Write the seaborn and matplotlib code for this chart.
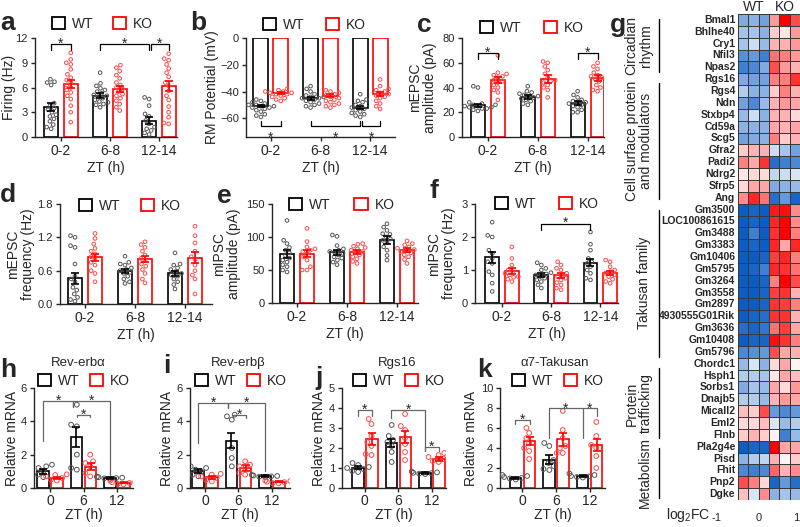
import numpy as np
import pandas as pd
import matplotlib.pyplot as plt
import seaborn as sns
from matplotlib.patches import Patch
from matplotlib.colors import LinearSegmentedColormap
from matplotlib.ticker import FormatStrFormatter
import matplotlib.transforms as mtransforms

# ================================
# DATA
# ================================
zt_cells = ["0-2", "6-8", "12-14"]
zt_mrna = ["0", "6", "12"]

# a: firing (Hz)
a_wt = [[7.0, 6.7, 6.6, 6.3, 4.1, 3.8, 3.5, 3.3, 3.0, 2.7, 2.5, 2.2, 1.9, 1.5, 1.2, 1.0],
        [7.8, 6.5, 6.2, 5.9, 5.7, 5.5, 5.3, 5.1, 5.0, 4.9, 4.7, 4.5, 4.3, 4.2, 4.0, 3.9, 3.6],
        [4.8, 4.6, 3.8, 2.8, 2.5, 2.0, 1.6, 1.2, 1.0, 0.8, 0.5, 0.3]]
a_ko = [[10.2, 9.4, 9.0, 8.8, 8.2, 7.6, 7.2, 6.9, 6.6, 6.3, 6.0, 5.7, 5.4, 5.0, 4.6, 3.8, 3.0, 1.8],
        [8.7, 8.4, 8.0, 7.5, 7.1, 6.6, 6.3, 6.0, 5.8, 5.5, 5.2, 5.0, 4.7, 4.4, 4.0, 3.6, 3.2],
        [10.1, 9.5, 9.3, 8.8, 8.3, 7.8, 7.3, 6.6, 6.2, 5.6, 5.0, 4.5, 3.7, 3.0, 2.4, 1.7, 1.6]]
a_wt_mean, a_wt_sem = [3.6, 5.0, 2.0], [0.5, 0.3, 0.45]
a_ko_mean, a_ko_sem = [6.4, 5.8, 6.2], [0.5, 0.4, 0.6]

# b: resting membrane potential (mV)
b_wt = [[-46, -47, -48, -49, -50, -50, -51, -51, -52, -52, -53, -54, -55, -57, -58, -59],
        [-36, -38, -40, -42, -43, -44, -44, -45, -45, -46, -47, -48, -49, -50, -51, -52],
        [-42, -46, -47, -48, -50, -51, -52, -53, -54, -55, -56, -57, -58, -59]]
b_ko = [[-38, -39, -40, -40, -41, -41, -42, -42, -43, -44, -45, -46, -47],
        [-39, -40, -41, -42, -43, -44, -45, -46, -47, -48, -49, -50, -51, -52],
        [-31, -36, -38, -39, -40, -41, -42, -43, -44, -45, -47, -49, -51, -53]]
b_wt_mean, b_wt_sem = [-51, -45, -52], [0.9, 1.0, 1.2]
b_ko_mean, b_ko_sem = [-41, -43, -42], [0.7, 0.9, 1.3]

# c: mEPSC amplitude (pA)
c_wt = [[41, 40, 28, 27, 26, 26, 25, 25, 24, 24, 23, 23, 22, 21],
        [41, 37, 36, 35, 34, 33, 33, 32, 31, 30, 29, 27, 26],
        [37, 34, 32, 30, 29, 28, 28, 27, 26, 25, 24, 22, 20, 20]]
c_ko = [[66, 52, 51, 50, 49, 48, 46, 45, 44, 42, 40, 38, 36, 30],
        [61, 60, 57, 54, 51, 48, 46, 45, 44, 42, 40, 38, 32],
        [60, 57, 55, 52, 50, 49, 48, 47, 45, 42, 40, 38, 37]]
c_wt_mean, c_wt_sem = [25.5, 32.5, 27.5], [1.3, 1.4, 1.3]
c_ko_mean, c_ko_sem = [46, 47, 48], [2.5, 3.0, 2.4]

# d: mEPSC frequency (Hz)
d_wt = [[1.23, 1.2, 1.05, 1.02, 0.72, 0.5, 0.45, 0.4, 0.3, 0.25, 0.18, 0.12, 0.08, 0.05],
        [0.86, 0.75, 0.72, 0.7, 0.65, 0.62, 0.6, 0.57, 0.55, 0.5, 0.45, 0.4, 0.37],
        [0.92, 0.72, 0.7, 0.65, 0.62, 0.58, 0.55, 0.52, 0.5, 0.45, 0.4, 0.35, 0.27]]
d_ko = [[1.27, 1.18, 1.08, 1.0, 0.95, 0.9, 0.85, 0.8, 0.75, 0.7, 0.6, 0.55, 0.4],
        [1.12, 1.07, 1.02, 0.95, 0.88, 0.82, 0.78, 0.72, 0.68, 0.62, 0.55, 0.45, 0.38],
        [1.4, 1.23, 1.1, 0.95, 0.85, 0.8, 0.7, 0.6, 0.52, 0.45, 0.18]]
d_wt_mean, d_wt_sem = [0.46, 0.59, 0.55], [0.1, 0.04, 0.05]
d_ko_mean, d_ko_sem = [0.84, 0.81, 0.83], [0.06, 0.06, 0.1]

# e: mIPSC amplitude (pA)
e_wt = [[125, 95, 90, 84, 80, 76, 72, 68, 65, 62, 58, 55, 50, 47],
        [103, 101, 87, 82, 80, 78, 77, 75, 73, 70, 68, 65, 62, 58],
        [120, 115, 110, 105, 104, 100, 97, 95, 92, 85, 80, 72, 65]]
e_ko = [[113, 93, 85, 82, 80, 78, 75, 70, 65, 55, 50, 50],
        [90, 89, 86, 84, 82, 80, 78, 76, 73, 70, 67, 63, 60],
        [94, 90, 88, 85, 83, 81, 79, 78, 76, 73, 70, 66, 60]]
e_wt_mean, e_wt_sem = [74, 77, 96], [6, 4, 6]
e_ko_mean, e_ko_sem = [75, 77, 80], [5, 3, 3]

# f: mIPSC frequency (Hz)
f_wt = [[2.45, 2.05, 2.0, 1.6, 1.5, 1.35, 1.25, 1.2, 0.95, 0.85, 0.6, 0.35],
        [1.22, 1.15, 1.05, 1.0, 0.92, 0.88, 0.85, 0.8, 0.75, 0.7, 0.65, 0.55, 0.45],
        [2.15, 1.78, 1.6, 1.35, 1.25, 1.2, 1.1, 1.0, 0.9, 0.75, 0.7]]
f_ko = [[1.7, 1.35, 1.15, 1.0, 0.95, 0.9, 0.85, 0.8, 0.78, 0.72, 0.65],
        [1.25, 1.15, 1.05, 1.0, 0.9, 0.85, 0.8, 0.75, 0.7, 0.62, 0.55, 0.45, 0.4],
        [1.3, 1.25, 1.1, 1.0, 0.95, 0.9, 0.85, 0.8, 0.72, 0.65, 0.6]]
f_wt_mean, f_wt_sem = [1.38, 0.85, 1.22], [0.16, 0.06, 0.11]
f_ko_mean, f_ko_sem = [0.96, 0.84, 0.91], [0.09, 0.08, 0.07]

# h: Rev-erb alpha mRNA
h_wt = [[1.4, 1.3, 1.2, 1.0, 0.8, 0.65], [5.0, 3.8, 3.7, 2.0, 1.2, 1.1], [0.68, 0.65, 0.62, 0.6, 0.58, 0.55]]
h_ko = [[0.82, 0.78, 0.7, 0.6, 0.5, 0.45], [2.0, 1.6, 1.5, 1.3, 0.9, 0.7], [0.45, 0.38, 0.35, 0.3, 0.25, 0.22]]
h_wt_mean, h_wt_sem = [1.0, 3.05, 0.6], [0.13, 0.6, 0.05]
h_ko_mean, h_ko_sem = [0.62, 1.28, 0.32], [0.06, 0.2, 0.04]

# i: Rev-erb beta mRNA
i_wt = [[1.3, 1.2, 1.1, 1.0, 0.8, 0.7], [4.4, 4.3, 4.1, 2.4, 1.8, 1.3], [0.78, 0.75, 0.72, 0.7, 0.68, 0.66]]
i_ko = [[0.85, 0.8, 0.7, 0.6, 0.5, 0.4], [1.6, 1.4, 1.3, 1.2, 0.9, 0.8], [0.45, 0.42, 0.38, 0.35, 0.3, 0.28]]
i_wt_mean, i_wt_sem = [1.0, 2.85, 0.72], [0.12, 0.45, 0.05]
i_ko_mean, i_ko_sem = [0.65, 1.22, 0.38], [0.08, 0.18, 0.04]

# j: Rgs16 mRNA
j_wt = [[1.25, 1.15, 1.05, 1.0, 0.95, 0.85, 0.8], [3.15, 2.6, 2.4, 2.3, 2.1, 1.8, 1.3], [0.82, 0.78, 0.76, 0.74, 0.72, 0.7]]
j_ko = [[3.45, 3.2, 2.6, 2.3, 2.1, 1.7, 1.65], [3.7, 3.1, 2.9, 2.5, 2.2, 1.8, 1.4], [1.75, 1.65, 1.55, 1.45, 1.35, 1.3]]
j_wt_mean, j_wt_sem = [1.02, 2.25, 0.75], [0.08, 0.22, 0.04]
j_ko_mean, j_ko_sem = [2.45, 2.55, 1.45], [0.3, 0.3, 0.08]

# k: alpha7-Takusan mRNA
k_wt = [[1.3, 1.2, 1.1, 1.0, 0.95, 0.85], [4.5, 4.2, 2.8, 2.5, 2.2, 1.9, 1.8], [1.45, 1.3, 1.2, 1.15, 1.1, 1.05]]
k_ko = [[6.0, 5.5, 5.0, 4.5, 4.0, 3.7, 2.9], [7.7, 5.8, 5.0, 4.2, 4.0, 3.5, 3.5], [6.6, 5.2, 4.3, 4.0, 3.2, 2.0]]
k_wt_mean, k_wt_sem = [1.05, 2.85, 1.2], [0.1, 0.45, 0.08]
k_ko_mean, k_ko_sem = [4.75, 4.9, 4.3], [0.4, 0.65, 0.6]

# g: heatmap log2FC (WT1, WT2, WT3, KO1, KO2, KO3)
genes = ["Bmal1", "Bhlhe40", "Cry1", "Nfil3", "Npas2", "Rgs16",
         "Rgs4", "Ndn", "Stxbp4", "Cd59a", "Scg5", "Gfra2", "Padi2", "Ndrg2", "Sfrp5", "Ang",
         "Gm3500", "LOC100861615", "Gm3488", "Gm3383", "Gm10406", "Gm5795", "Gm3264", "Gm3558",
         "Gm2897", "4930555G01Rik", "Gm3636", "Gm10408", "Gm5796",
         "Chordc1", "Hsph1", "Sorbs1", "Dnajb5", "Micall2", "Eml2", "Flnb",
         "Pla2g4e", "Pisd", "Fhit", "Pnp2", "Dgke"]
fc_values = [
    [-0.5, -0.45, -0.55, 0.4, 1.0, 0.7],
    [-0.35, -0.35, -0.45, 0.2, 0.1, 0.4],
    [-0.35, -0.2, -0.4, 0.3, 0.3, 0.4],
    [-0.65, -0.6, -0.75, 0.55, 0.5, 0.4],
    [-0.75, -0.7, -0.5, 0.7, 0.4, 0.3],
    [-0.5, -0.55, -0.55, 0.5, 0.5, 0.8],
    [-0.3, -0.45, -0.45, 0.2, 0.5, 0.3],
    [-0.55, -0.7, -0.4, 0.3, 0.4, 0.35],
    [-0.4, -0.2, -0.45, 0.3, 0.3, 0.15],
    [-0.45, -0.45, -0.45, 0.35, 0.3, 0.35],
    [-0.55, -0.5, -0.45, 0.5, 0.2, 0.3],
    [0.2, 0.3, 0.3, -0.2, -0.35, -0.55],
    [0.5, 0.35, 0.8, -0.85, -0.75, -0.7],
    [0.1, 0.15, 0.15, -0.25, -0.2, -0.15],
    [0.15, 0.35, 0.35, -0.5, -0.45, -0.4],
    [0.45, 0.85, 0.55, -0.85, -0.6, -0.9],
    [-0.95, -0.9, -0.95, 0.9, 0.95, 0.45],
    [-0.95, -0.9, -0.95, 0.85, 1.0, 0.45],
    [-0.95, -0.75, -0.95, 0.8, 1.0, 0.5],
    [-0.95, -0.9, -0.95, 0.85, 0.35, 0.85],
    [-0.95, -0.95, -0.9, 0.75, 0.85, 0.5],
    [-0.95, -0.9, -0.75, 0.85, 0.8, 0.55],
    [-0.95, -0.95, -0.9, 0.5, 1.0, 0.7],
    [-0.95, -0.95, -0.9, 0.75, 0.8, 0.3],
    [-0.95, -0.95, -0.9, 0.8, 0.75, 0.5],
    [-0.95, -0.9, -0.85, 0.8, 0.8, 0.3],
    [-0.85, -0.9, -0.8, 0.55, 0.75, 0.35],
    [-0.95, -0.9, -0.9, 0.95, 0.8, 0.5],
    [-0.7, -0.65, -0.6, 0.7, 0.35, 0.3],
    [-0.4, -0.15, -0.45, 0.15, 0.35, 0.05],
    [-0.3, -0.3, -0.35, 0.1, 0.35, 0.25],
    [-0.5, -0.35, -0.4, 0.35, 0.15, 0.4],
    [-0.3, -0.3, -0.4, 0.3, 0.4, 0.35],
    [0.25, 0.2, 0.7, -0.6, -0.7, -0.6],
    [0.15, 0.15, 0.25, -0.15, -0.4, -0.3],
    [0.2, 0.3, 0.2, 0.05, -0.75, -0.4],
    [-0.95, -0.9, -0.9, 1.0, 0.35, 0.35],
    [-0.45, -0.3, -0.25, 0.3, 0.05, 0.2],
    [-0.7, -0.75, -0.7, 0.6, 0.3, 0.45],
    [0.7, 0.5, 0.15, -0.9, -0.6, -0.85],
    [0.25, -0.15, 0.45, -0.45, -0.35, -0.4],
]
groups = [("Circadian\nrhythm", 0.4, 4.9, 639), ("Cell surface protein\nand modulators", 5.8, 15.6, 639),
          ("Takusan family", 16.5, 28.9, 644), ("Protein\ntrafficking", 29.9, 35.8, 639),
          ("Metabolism", 36.6, 40.8, 645)]

# ================================
# STYLE
# ================================
sns.set_style("ticks")
plt.rcParams["font.family"] = ["Liberation Sans", "DejaVu Sans"]
plt.rcParams["mathtext.default"] = "regular"
plt.rcParams["axes.linewidth"] = 1.0
plt.rcParams["xtick.major.width"] = 1.0
plt.rcParams["ytick.major.width"] = 1.0
plt.rcParams["xtick.major.size"] = 3
plt.rcParams["ytick.major.size"] = 3

W, H = 800, 527
fig = plt.figure(figsize=(8, 5.27), dpi=100)

bar_pal = {"WT": "#000000", "KO": "#ff0000"}
pt_pal = {"WT": "#555555", "KO": "#ff4a4a"}


def px_axes(x0, y0, x1, y1):
    return fig.add_axes([x0 / W, 1 - y1 / H, (x1 - x0) / W, (y1 - y0) / H])


def draw_panel(ax, cats, wt_pts, ko_pts, wt_mean, ko_mean, wt_sem, ko_sem, gap, msize, off):
    bars = pd.DataFrame({"zt": cats * 2, "geno": ["WT"] * 3 + ["KO"] * 3, "val": wt_mean + ko_mean})
    sns.barplot(data=bars, x="zt", y="val", hue="geno", order=cats, hue_order=["WT", "KO"],
                palette=bar_pal, saturation=1, fill=False, width=2 * off / 0.5, gap=gap,
                errorbar=None, linewidth=1.2, legend=False, ax=ax)
    rows = []
    for n, c in enumerate(cats):
        rows += [(c, "WT", v) for v in wt_pts[n]]
        rows += [(c, "KO", v) for v in ko_pts[n]]
    pts = pd.DataFrame(rows, columns=["zt", "geno", "val"])
    n0 = len(ax.collections)
    sns.swarmplot(data=pts, x="zt", y="val", hue="geno", order=cats, hue_order=["WT", "KO"],
                  palette=pt_pal, dodge=True, size=msize, legend=False, ax=ax, warn_thresh=1)
    for coll in ax.collections[n0:]:
        fc = coll.get_facecolors()
        coll.set_edgecolors(fc)
        coll.set_facecolors("none")
        coll.set_linewidths(0.7)
        coll.set_zorder(3)
    for m, s, col, sgn in [(wt_mean, wt_sem, "black", -1), (ko_mean, ko_sem, "red", 1)]:
        xs = np.arange(3) + sgn * off
        ax.errorbar(xs, m, yerr=s, fmt="none", ecolor=col, elinewidth=1.2,
                    capsize=3, capthick=1.2, zorder=4)
    ax.set_xlabel("ZT (h)", fontsize=10, labelpad=2)
    ax.tick_params(axis="x", labelsize=10, pad=2)
    ax.tick_params(axis="y", labelsize=8, pad=2)
    sns.despine(ax=ax)


def star(ax, x, y):
    ax.annotate("*", xy=(x, y), xytext=(0, -2.3), textcoords="offset points",
                ha="center", va="center", fontsize=10, annotation_clip=False)


def bracket(ax, x1, x2, y, y1, y2, sy, color="black", sx=None):
    ax.plot([x1, x1, x2, x2], [y1, y, y, y2], color=color, lw=0.9, clip_on=False, zorder=5)
    star(ax, (x1 + x2) / 2 if sx is None else sx, sy)


def legend(ax, x, y, spacing):
    hs = [Patch(facecolor="white", edgecolor="black", linewidth=1.3, label="WT"),
          Patch(facecolor="white", edgecolor="red", linewidth=1.3, label="KO")]
    ax.legend(handles=hs, loc="center left", bbox_to_anchor=(x / W, 1 - y / H),
              bbox_transform=fig.transFigure, ncol=2, frameon=False, fontsize=10,
              handlelength=0.95, handleheight=0.95, handletextpad=0.5,
              columnspacing=spacing, borderpad=0, borderaxespad=0)


def letter(x, y, s):
    fig.text(x / W, 1 - y / H, s, fontsize=19, fontweight="bold", va="baseline", ha="left")


# ================================
# TOP ROW
# ================================
ax = px_axes(35, 38, 177, 137)
draw_panel(ax, zt_cells, a_wt, a_ko, a_wt_mean, a_ko_mean, a_wt_sem, a_ko_sem, 0.3, 2.6, 0.2)
ax.set_ylim(0, 12)
ax.set_yticks([0, 3, 6, 9, 12])
ax.set_xlim(-0.53, 2.37)
ax.set_ylabel("Firing (Hz)", fontsize=10, labelpad=0)
bracket(ax, -0.2, 0.2, 11.3, 10.5, 10.5, 11.7)
bracket(ax, 0.8, 1.8, 11.3, 10.5, 10.5, 11.7)
bracket(ax, 1.84, 2.2, 11.3, 10.5, 10.5, 11.7)
legend(ax, 52, 23.5, 1.4)
letter(0, 30, "a")

ax = px_axes(246, 38, 395, 137)
draw_panel(ax, zt_cells, b_wt, b_ko, b_wt_mean, b_ko_mean, b_wt_sem, b_ko_sem, 0.25, 2.6, 0.2)
ax.set_ylim(-74, 0)
ax.set_yticks([0, -20, -40, -60])
ax.set_xlim(-0.5, 2.5)
ax.set_ylabel("RM Potential (mV)", fontsize=10, labelpad=1)
bracket(ax, -0.2, 0.2, -65.5, -62, -62, -72.5)
bracket(ax, 0.8, 1.8, -65.5, -62, -62, -72.5)
bracket(ax, 1.84, 2.2, -65.5, -62, -62, -72.5)
legend(ax, 263, 25, 1.5)
letter(190, 30, "b")

ax = px_axes(462, 38, 604, 137)
draw_panel(ax, zt_cells, c_wt, c_ko, c_wt_mean, c_ko_mean, c_wt_sem, c_ko_sem, 0.3, 2.6, 0.2)
ax.set_ylim(0, 80)
ax.set_yticks([0, 20, 40, 60, 80])
ax.set_xlim(-0.52, 2.33)
ax.set_ylabel("mEPSC\namplitude (pA)", fontsize=10, linespacing=1.1)
bracket(ax, -0.2, 0.2, 68, 63, 63, 70.5)
bracket(ax, 1.8, 2.2, 68, 63, 63, 70.5)
legend(ax, 480, 28, 1.6)
letter(417, 32, "c")

ax = px_axes(60, 204, 212, 304)
draw_panel(ax, zt_cells, d_wt, d_ko, d_wt_mean, d_ko_mean, d_wt_sem, d_ko_sem, 0.3, 2.6, 0.2)
ax.set_ylim(0, 1.8)
ax.set_yticks([0, 0.6, 1.2, 1.8])
ax.yaxis.set_major_formatter(FormatStrFormatter("%.1f"))
ax.set_xlim(-0.5, 2.54)
ax.set_ylabel("mEPSC\nfrequency (Hz)", fontsize=10, linespacing=1.1, labelpad=2)
legend(ax, 79, 206, 1.45)
letter(0, 202, "d")

ax = px_axes(272, 204, 418, 303)
draw_panel(ax, zt_cells, e_wt, e_ko, e_wt_mean, e_ko_mean, e_wt_sem, e_ko_sem, 0.3, 2.6, 0.2)
ax.set_ylim(0, 150)
ax.set_yticks([0, 50, 100, 150])
ax.set_xlim(-0.5, 2.42)
ax.set_ylabel("mIPSC\namplitude (pA)", fontsize=10, linespacing=1.1)
legend(ax, 289, 205, 1.7)
letter(217, 203, "e")

ax = px_axes(475, 204, 618, 303)
draw_panel(ax, zt_cells, f_wt, f_ko, f_wt_mean, f_ko_mean, f_wt_sem, f_ko_sem, 0.3, 2.6, 0.2)
ax.set_ylim(0, 3)
ax.set_yticks([0, 1, 2, 3])
ax.set_xlim(-0.55, 2.36)
ax.set_ylabel("mIPSC\nfrequency (Hz)", fontsize=10, linespacing=1.1)
bracket(ax, 0.8, 1.8, 2.4, 2.2, 2.2, 2.52)
legend(ax, 495, 204, 1.6)
letter(430, 198, "f")

# ================================
# BOTTOM ROW (qPCR)
# ================================
gray = "#666666"

ax = px_axes(34, 388, 133, 488)
draw_panel(ax, zt_mrna, h_wt, h_ko, h_wt_mean, h_ko_mean, h_wt_sem, h_ko_sem, 0.18, 3.4, 0.21)
ax.set_ylim(0, 6)
ax.set_yticks([0, 2, 4, 6])
ax.set_xlim(-0.48, 2.48)
ax.set_ylabel("Relative mRNA", fontsize=10, labelpad=1)
bracket(ax, -0.21, 0.7, 5.2, 2.8, 4.85, 5.4, gray)
bracket(ax, 0.7, 1.79, 5.2, 4.85, 0.8, 5.4, gray)
bracket(ax, 0.8, 1.19, 4.4, 4.25, 4.25, 4.58, gray)
ax.text(0.45, 1.25, "Rev-erbα", transform=ax.transAxes, ha="center", va="center", fontsize=9.5)
legend(ax, 38, 381, 0.75)
letter(0, 377, "h")

ax = px_axes(190, 388, 290, 488)
draw_panel(ax, zt_mrna, i_wt, i_ko, i_wt_mean, i_ko_mean, i_wt_sem, i_ko_sem, 0.18, 3.4, 0.21)
ax.set_ylim(0, 6)
ax.set_yticks([0, 2, 4, 6])
ax.set_xlim(-0.45, 2.54)
ax.set_ylabel("Relative mRNA", fontsize=10, labelpad=2)
bracket(ax, -0.21, 0.7, 5.1, 2.7, 4.8, 5.32, gray)
bracket(ax, 0.7, 1.79, 5.1, 4.8, 1.0, 5.32, gray)
bracket(ax, 0.85, 1.21, 4.4, 4.2, 4.2, 4.58, gray)
ax.text(0.485, 1.25, "Rev-erbβ", transform=ax.transAxes, ha="center", va="center", fontsize=9.5)
legend(ax, 195, 381, 0.75)
letter(163, 373, "i")

ax = px_axes(342, 388, 446, 488)
draw_panel(ax, zt_mrna, j_wt, j_ko, j_wt_mean, j_ko_mean, j_wt_sem, j_ko_sem, 0.18, 3.4, 0.21)
ax.set_ylim(0, 5)
ax.set_yticks([0, 1, 2, 3, 4, 5])
ax.set_xlim(-0.68, 2.42)
ax.set_ylabel("Relative mRNA", fontsize=10, labelpad=2)
bracket(ax, -0.21, 0.21, 3.9, 3.6, 3.6, 4.05, gray)
bracket(ax, 0.79, 1.79, 3.9, 3.5, 1.83, 4.05, gray)
bracket(ax, 1.79, 2.21, 2.03, 1.85, 1.85, 2.2, gray)
ax.text(0.53, 1.25, "Rgs16", transform=ax.transAxes, ha="center", va="center", fontsize=9.5)
legend(ax, 353, 381, 0.75)
letter(315, 385, "j")

ax = px_axes(500, 388, 605, 488)
draw_panel(ax, zt_mrna, k_wt, k_ko, k_wt_mean, k_ko_mean, k_wt_sem, k_ko_sem, 0.18, 3.4, 0.21)
ax.set_ylim(0, 10)
ax.set_yticks([0, 2, 4, 6, 8, 10])
ax.set_xlim(-0.67, 2.46)
ax.set_ylabel("Relative mRNA", fontsize=10, labelpad=2)
bracket(ax, -0.21, 0.21, 6.8, 6.4, 6.4, 7.1, gray)
bracket(ax, 0.79, 1.79, 8.0, 5.0, 5.0, 8.25, gray)
bracket(ax, 1.79, 2.21, 8.0, 8.0, 7.2, 8.25, gray)
ax.text(0.52, 1.25, "α7-Takusan", transform=ax.transAxes, ha="center", va="center", fontsize=9.5)
legend(ax, 512, 381, 0.75)
letter(477, 377, "k")

# the qPCR panels sit low in the figure: tighten their x labels
for a_ in fig.axes[-4:]:
    a_.xaxis.labelpad = 0
    a_.tick_params(axis="x", pad=1.5)

# ================================
# HEATMAP g
# ================================
axg = px_axes(738, 14, 800, 500)
hm = pd.DataFrame(fc_values, index=genes, columns=["WT1", "WT2", "WT3", "KO1", "KO2", "KO3"])
cmap = LinearSegmentedColormap.from_list("bwr_g", ["#0055c0", "#ffffff", "#ff0000"])
sns.heatmap(hm, ax=axg, cmap=cmap, vmin=-1, vmax=1, cbar=False, linewidths=0.6,
            linecolor="#3a3a3a", xticklabels=False, yticklabels=genes)
axg.tick_params(axis="y", length=0, pad=2, labelsize=7.5)
for t in axg.get_yticklabels():
    t.set_fontweight("bold")
axg.set_ylabel("")
fig.text(754 / W, 1 - 7 / H, "WT", ha="center", va="center", fontsize=10)
fig.text(785 / W, 1 - 7 / H, "KO", ha="center", va="center", fontsize=10)

trans = mtransforms.blended_transform_factory(fig.transFigure, axg.transData)
for label, r0, r1, tx in groups:
    axg.plot([659 / W, 659 / W], [r0, r1], color="black", lw=1.0, transform=trans, clip_on=False)
    axg.text(tx / W, (r0 + r1) / 2, label, transform=trans, rotation=90, ha="center",
             va="center", fontsize=10, linespacing=1.05, multialignment="center")
letter(610, 32, "g")

fig.text(688 / W, 1 - 515 / H, "log$_2$FC", ha="center", va="center", fontsize=10)
for v, xp in [("-1", 717), ("0", 759), ("1", 796)]:
    fig.text(xp / W, 1 - 518 / H, v, ha="center", va="center", fontsize=8)

plt.savefig("out.png", dpi=100)
